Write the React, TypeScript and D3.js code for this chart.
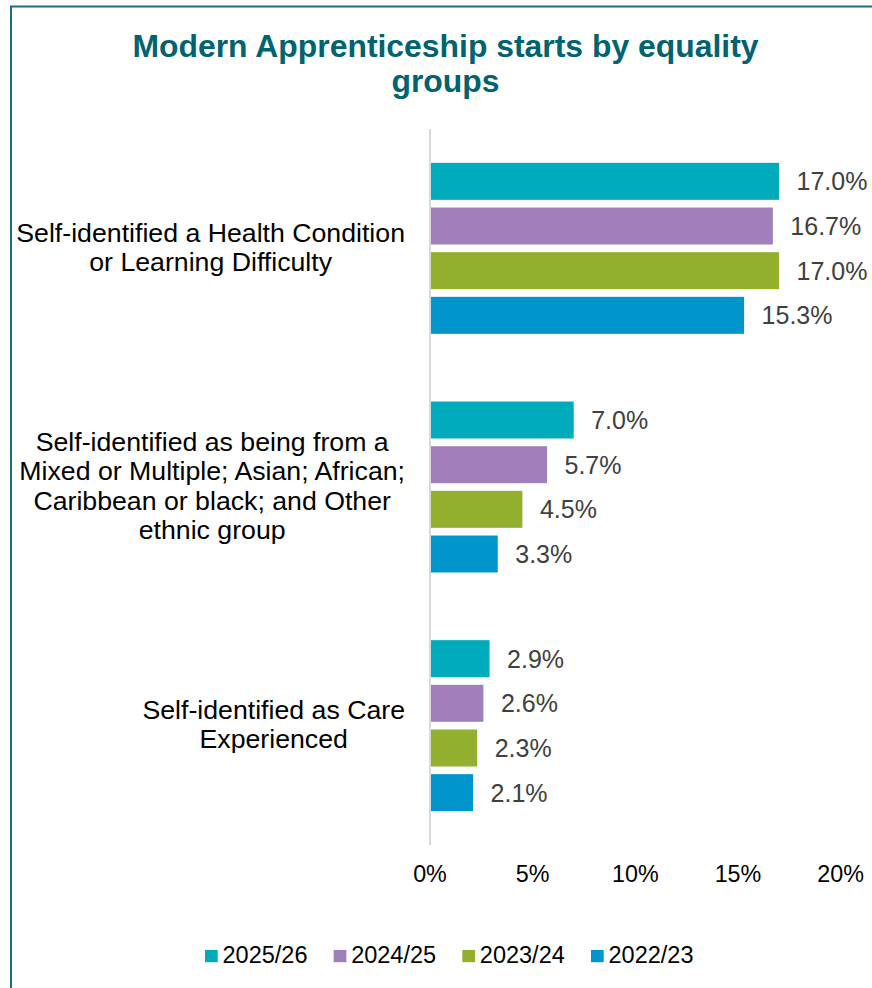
import React, { useEffect, useRef } from "react";
import * as d3 from "d3";

const categories = [
  "Self-identified a Health Condition or Learning Difficulty",
  "Self-identified as being from a Mixed or Multiple; Asian; African; Caribbean or black; and Other ethnic group",
  "Self-identified as Care Experienced",
];
const categoryLines = [
  ["Self-identified a Health Condition", "or Learning Difficulty"],
  ["Self-identified as being from a", "Mixed or Multiple; Asian; African;", "Caribbean or black; and Other", "ethnic group"],
  ["Self-identified as Care", "Experienced"],
];
const seriesNames = ["2025/26", "2024/25", "2023/24", "2022/23"];
const values2025_26 = [17.0, 7.0, 2.9];
const values2024_25 = [16.7, 5.7, 2.6];
const values2023_24 = [17.0, 4.5, 2.3];
const values2022_23 = [15.3, 3.3, 2.1];
const seriesColors = ["#00ABBB", "#A07FBA", "#92B02D", "#0096CB"];
const tickValues = [0, 5, 10, 15, 20];
const titleLines = ["Modern Apprenticeship starts by equality", "groups"];

const W = 872;
const H = 988;
const FONT = "'Liberation Sans', Arial, sans-serif";

export default function App() {
  const ref = useRef<SVGSVGElement | null>(null);

  useEffect(() => {
    document.body.style.margin = "0";
    const svg = d3.select(ref.current);
    svg.selectAll("*").remove();

    const seriesValues = [values2025_26, values2024_25, values2023_24, values2022_23];

    // border (top + left)
    svg.append("path")
      .attr("d", `M11,${H + 5} L11,6.5 L${W + 5},6.5`)
      .attr("fill", "none")
      .attr("stroke", "#17707E")
      .attr("stroke-width", 2);

    // title
    const title = svg.append("text")
      .attr("text-anchor", "middle")
      .attr("font-family", FONT)
      .attr("font-weight", "bold")
      .attr("font-size", 31.9)
      .attr("fill", "#00636F");
    titleLines.forEach((t, i) => {
      title.append("tspan").attr("x", 445.5).attr("y", 56.5 + i * 35.5).text(t);
    });

    const x = d3.scaleLinear().domain([0, 20]).range([430, 840.6]);
    const pIn = 0.2836;
    const y0 = d3.scaleBand<string>()
      .domain(categories)
      .range([129, 845])
      .paddingInner(pIn)
      .paddingOuter(pIn / 2);
    const y1 = d3.scaleBand<string>()
      .domain(seriesNames)
      .range([0, y0.bandwidth()])
      .paddingInner(0.172)
      .paddingOuter(0);

    // bars
    categories.forEach((cat, ci) => {
      const g = svg.append("g").attr("transform", `translate(0,${y0(cat)})`);
      seriesNames.forEach((s, si) => {
        const v = seriesValues[si][ci];
        g.append("rect")
          .attr("x", x(0) + 0.8)
          .attr("y", y1(s)!)
          .attr("width", x(v) - x(0) - 0.8)
          .attr("height", y1.bandwidth())
          .attr("fill", seriesColors[si]);
        g.append("text")
          .attr("x", x(v) + 17.5)
          .attr("y", y1(s)! + y1.bandwidth() / 2 + 9)
          .attr("font-family", FONT)
          .attr("font-size", 25)
          .attr("fill", "#404040")
          .text(v.toFixed(1) + "%");
      });
    });

    // axis line
    svg.append("line")
      .attr("x1", x(0)).attr("x2", x(0))
      .attr("y1", 129).attr("y2", 845)
      .attr("stroke", "#D9D9D9")
      .attr("stroke-width", 2);

    // tick labels
    tickValues.forEach((t) => {
      svg.append("text")
        .attr("x", x(t))
        .attr("y", 881.5)
        .attr("text-anchor", "middle")
        .attr("font-family", FONT)
        .attr("font-size", 23.3)
        .attr("fill", "#000")
        .text(t + "%");
    });

    // category labels: block right-aligned at 405, lines centered in block
    const lineH = 29.2;
    categories.forEach((cat, ci) => {
      const lines = categoryLines[ci];
      const cy = y0(cat)! + y0.bandwidth() / 2;
      const g = svg.append("g");
      const texts = lines.map((ln, li) =>
        g.append("text")
          .attr("y", cy + (li - (lines.length - 1) / 2) * lineH + 8)
          .attr("text-anchor", "middle")
          .attr("font-family", FONT)
          .attr("font-size", 26.7)
          .attr("fill", "#000")
          .text(ln)
      );
      const maxW = d3.max(texts, (t) => (t.node() as SVGTextElement).getComputedTextLength()) || 0;
      texts.forEach((t) => t.attr("x", 405 - maxW / 2));
    });

    // legend
    const legX = d3.scalePoint<string>().domain(seriesNames).range([205, 591]);
    seriesNames.forEach((s, si) => {
      const lx = legX(s)!;
      svg.append("rect")
        .attr("x", lx).attr("y", 950)
        .attr("width", 12.7).attr("height", 12.2)
        .attr("fill", seriesColors[si]);
      svg.append("text")
        .attr("x", lx + 17.5)
        .attr("y", 962.7)
        .attr("font-family", FONT)
        .attr("font-size", 23.5)
        .attr("fill", "#000")
        .text(s);
    });
  }, []);

  return (
    <svg
      ref={ref}
      width={W}
      height={H}
      style={{ position: "absolute", left: 0, top: 0, display: "block", background: "#fff" }}
    />
  );
}
